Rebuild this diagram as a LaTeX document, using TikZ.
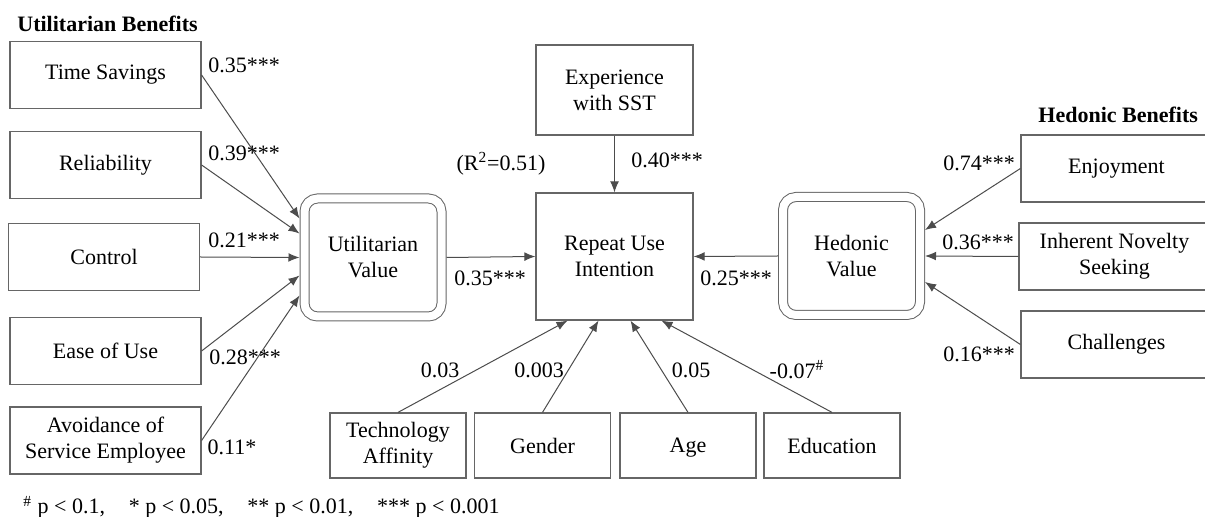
\documentclass[tikz,border=0pt]{standalone}
\usepackage{fontspec}
\setmainfont{Liberation Serif}
\usetikzlibrary{arrows.meta}
\definecolor{linegray}{gray}{0.3}
\definecolor{boxgray}{gray}{0.4}

\begin{document}
\begin{tikzpicture}[x=0.5pt, y=-0.5pt, >={Latex[length=5.5pt,width=4.4pt]},
  font=\fontsize{11}{13}\selectfont,
  benefit/.style={draw=boxgray, line width=0.6pt, minimum width=95.5pt, minimum height=33.5pt, align=center, inner sep=1pt},
  covariate/.style={benefit, minimum width=68pt, minimum height=32.5pt},
  construct/.style={draw=boxgray, line width=0.6pt, minimum width=78.5pt, align=center},
  valuebox/.style={draw=boxgray, line width=0.5pt, double, double distance=4pt, rounded corners=6.5pt, minimum width=68.5pt, minimum height=59pt, outer sep=2.5pt, align=center},
  effect/.style={->, draw=linegray, line width=0.5pt},
  coef/.style={inner sep=0pt},
  grouptitle/.style={inner sep=0pt, font=\fontsize{11}{13}\selectfont\bfseries}
]
  % fix the page to the size of the reference
  \useasboundingbox (0,0) rectangle (1205,517);

  % Utilitarian benefits (left column)
  \node[grouptitle, anchor=west] (utitle) at (17,24) {Utilitarian Benefits};
  \node[benefit] (ts) at (105.5,75) {Time Savings};
  \node[benefit] (rel) at (105.5,165) {Reliability};
  \node[benefit] (ctrl) at (104,257) {Control};
  \node[benefit] (ease) at (105.5,351) {Ease of Use};
  \node[benefit] (avoid) at (105.5,440.5) {Avoidance of\\Service Employee};

  % Value constructs and outcome
  \node[valuebox] (uv) at (373,257.5) {Utilitarian\\Value};
  \node[valuebox] (hv) at (851.5,256) {Hedonic\\Value};
  \node[construct, minimum height=63.5pt] (rui) at (614.5,256.5) {Repeat Use\\Intention};
  \node[construct, minimum height=45pt] (exp) at (614.5,90) {Experience\\with SST};

  % Hedonic benefits (right column)
  \node[grouptitle, anchor=west] (htitle) at (1038,115) {Hedonic Benefits};
  \node[benefit] (enj) at (1116.5,168.5) {Enjoyment};
  \node[benefit] (nov) at (1114.5,256.5) {Inherent Novelty\\Seeking};
  \node[benefit] (chal) at (1116.5,344.5) {Challenges};

  % Control variables
  \node[covariate] (tech) at (398,445.5) {Technology\\Affinity};
  \node[covariate] (gender) at (542.5,445.5) {Gender};
  \node[covariate, text depth=0pt] (age) at (688,445.5) {Age};
  \node[covariate] (edu) at (832,445.5) {Education};

  % Paths into utilitarian value
  \draw[effect] (ts.east) -- ([yshift=19.5pt]uv.west);
  \draw[effect] (rel.east) -- ([yshift=12pt]uv.west);
  \draw[effect] (ctrl.east) -- (uv.west);
  \draw[effect] (ease.east) -- ([yshift=-9pt]uv.west);
  \draw[effect] (avoid.east) -- ([yshift=-19pt]uv.west);

  % Paths into hedonic value
  \draw[effect] (enj.west) -- ([yshift=13pt]hv.east);
  \draw[effect] (nov.west) -- (hv.east);
  \draw[effect] (chal.west) -- ([yshift=-13pt]hv.east);

  % Paths into repeat use intention
  \draw[effect] (uv.east) -- (rui.west);
  \draw[effect] (hv.west) -- (rui.east);
  \draw[effect] (exp.south) -- (rui.north);
  \draw[effect] (tech.north) -- ([xshift=-23.5pt]rui.south);
  \draw[effect] (gender.north) -- ([xshift=-8pt]rui.south);
  \draw[effect] (age.north) -- ([xshift=8pt]rui.south);
  \draw[effect] (edu.north) -- ([xshift=23.5pt]rui.south);

  % Coefficients
  \node[coef] (cts) at (244,65) {0.35***};
  \node[coef] (crel) at (244,153) {0.39***};
  \node[coef] (cctrl) at (244,240) {0.21***};
  \node[coef] (cease) at (245,357) {0.28***};
  \node[coef] (cavoid) at (232,447) {0.11*};
  \node[coef] (cuv) at (490,278) {0.35***};
  \node[coef] (rsq) at (501,164) {(R\textsuperscript{2}=0.51)};
  \node[coef] (cexp) at (667,160) {0.40***};
  \node[coef] (chv) at (736,278) {0.25***};
  \node[coef] (cenj) at (979,163) {0.74***};
  \node[coef] (cnov) at (978,242) {0.36***};
  \node[coef] (cchal) at (979,354) {0.16***};
  \node[coef] (ctech) at (440,370) {0.03};
  \node[coef] (cgender) at (539,370) {0.003};
  \node[coef] (cage) at (691,370) {0.05};
  \node[coef] (cedu) at (797,370) {-0.07\textsuperscript{\#}};

  % Significance note
  \node[coef, anchor=base west] (note) at (23,514) {\textsuperscript{\#} p < 0.1,\hspace{1.08em}* p < 0.05,\hspace{1.08em}** p < 0.01,\hspace{1.08em}*** p < 0.001};
\end{tikzpicture}
\end{document}
